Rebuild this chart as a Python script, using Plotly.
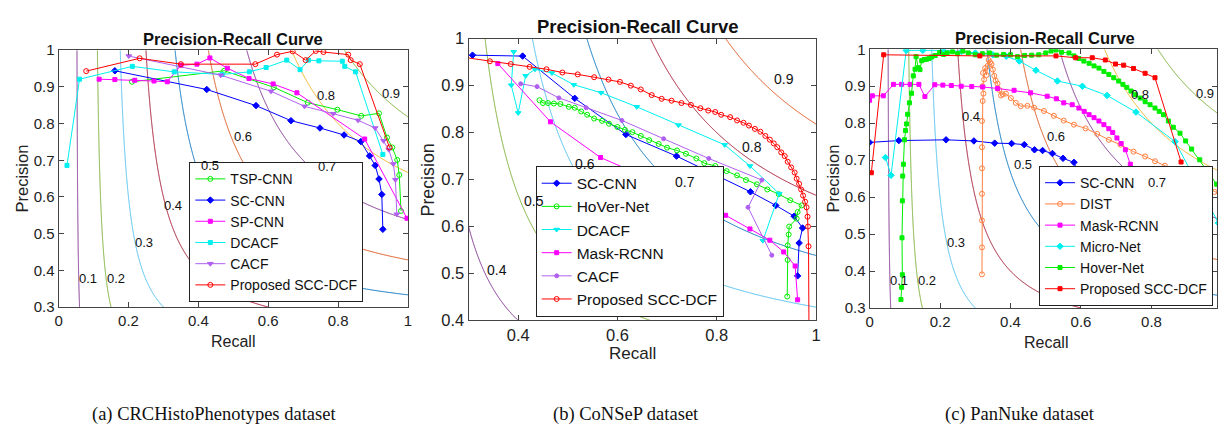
import numpy as np
import plotly.graph_objects as go

W, H = 1223, 433

# ---------------- data ----------------
F_LEVELS = [0.1, 0.2, 0.3, 0.4, 0.5, 0.6, 0.7, 0.8, 0.9]

# Panel (a) CRCHistoPhenotypes
A_TSP_R = [0.21, 0.474, 0.616, 0.713, 0.798, 0.866, 0.917, 0.94, 0.955, 0.969, 0.975, 0.98]
A_TSP_P = [0.914, 0.944, 0.899, 0.857, 0.838, 0.821, 0.828, 0.762, 0.735, 0.701, 0.66, 0.562]
A_SC_R = [0.161, 0.424, 0.565, 0.665, 0.748, 0.817, 0.865, 0.89, 0.906, 0.917, 0.925, 0.928]
A_SC_P = [0.944, 0.893, 0.849, 0.808, 0.788, 0.769, 0.751, 0.712, 0.686, 0.649, 0.607, 0.512]
A_SP_R = [0.116, 0.161, 0.218, 0.273, 0.311, 0.35, 0.396, 0.433, 0.483, 0.545, 0.614, 0.682, 0.876, 0.997]
A_SP_P = [0.921, 0.92, 0.918, 0.916, 0.914, 0.959, 0.962, 0.979, 0.951, 0.923, 0.908, 0.884, 0.758, 0.542]
A_DC_R = [0.024, 0.06, 0.211, 0.331, 0.468, 0.546, 0.594, 0.653, 0.691, 0.715, 0.745, 0.812, 0.819, 0.85, 0.928]
A_DC_P = [0.686, 0.921, 0.956, 0.941, 0.934, 0.941, 0.953, 0.973, 0.947, 0.973, 0.971, 0.97, 0.956, 0.941, 0.716]
A_CA_R = [0.201, 0.464, 0.608, 0.704, 0.786, 0.857, 0.906, 0.93, 0.945, 0.958, 0.964, 0.968]
A_CA_P = [0.984, 0.932, 0.888, 0.847, 0.827, 0.809, 0.788, 0.753, 0.729, 0.69, 0.647, 0.553]
A_PR_R = [0.079, 0.232, 0.35, 0.563, 0.625, 0.67, 0.707, 0.736, 0.758, 0.829, 0.836, 0.862, 0.947]
A_PR_P = [0.943, 0.978, 0.962, 0.962, 0.988, 0.997, 0.973, 0.998, 0.995, 0.988, 0.973, 0.962, 0.735]

# Panel (b) CoNSeP
B_SC_R = [0.308, 0.409, 0.514, 0.617, 0.719, 0.8, 0.868, 0.919, 0.956, 0.973, 0.966, 0.963]
B_SC_P = [0.965, 0.963, 0.873, 0.796, 0.75, 0.708, 0.674, 0.645, 0.622, 0.597, 0.565, 0.495]
B_HV_R = [0.443, 0.45, 0.46, 0.472, 0.485, 0.502, 0.514, 0.527, 0.539, 0.553, 0.569, 0.583, 0.6,
          0.615, 0.63, 0.647, 0.664, 0.683, 0.7, 0.72, 0.738, 0.759, 0.775, 0.797, 0.82, 0.841,
          0.859, 0.881, 0.902, 0.925, 0.948, 0.971, 0.963, 0.961, 0.946, 0.945, 0.943, 0.943, 0.942]
B_HV_P = [0.869, 0.863, 0.863, 0.862, 0.861, 0.855, 0.853, 0.845, 0.838, 0.83, 0.825, 0.819, 0.812,
          0.806, 0.801, 0.793, 0.784, 0.776, 0.768, 0.762, 0.755, 0.745, 0.735, 0.729, 0.718, 0.709,
          0.699, 0.69, 0.679, 0.669, 0.656, 0.645, 0.631, 0.617, 0.6, 0.583, 0.56, 0.529, 0.451]
B_DC_R = [0.391, 0.386, 0.4, 0.415, 0.434, 0.468, 0.512, 0.567, 0.639, 0.723, 0.816, 0.867, 0.926, 0.893]
B_DC_P = [0.972, 0.901, 0.842, 0.921, 0.935, 0.927, 0.902, 0.885, 0.855, 0.816, 0.774, 0.729, 0.67, 0.57]
B_MR_R = [0.359, 0.465, 0.566, 0.669, 0.751, 0.818, 0.867, 0.907, 0.935, 0.958, 0.963]
B_MR_P = [0.947, 0.823, 0.747, 0.699, 0.662, 0.624, 0.595, 0.571, 0.546, 0.516, 0.444]
B_CA_R = [0.405, 0.438, 0.482, 0.537, 0.609, 0.693, 0.784, 0.891, 0.863, 0.911]
B_CA_P = [0.904, 0.898, 0.874, 0.853, 0.826, 0.787, 0.745, 0.699, 0.641, 0.539]
B_PR_R = [0.28, 0.343, 0.385, 0.423, 0.457, 0.489, 0.52, 0.553, 0.582, 0.605, 0.627, 0.647, 0.669,
          0.689, 0.709, 0.729, 0.748, 0.767, 0.783, 0.797, 0.809, 0.827, 0.841, 0.854, 0.865, 0.877,
          0.888, 0.898, 0.907, 0.915, 0.922, 0.93, 0.937, 0.943, 0.95, 0.957, 0.961, 0.966, 0.97,
          0.974, 0.978, 0.981, 0.983, 0.984, 0.985, 0.986]
B_PR_P = [0.962, 0.952, 0.946, 0.94, 0.935, 0.928, 0.924, 0.918, 0.913, 0.908, 0.9, 0.892, 0.88,
          0.872, 0.868, 0.863, 0.859, 0.852, 0.847, 0.844, 0.838, 0.833, 0.826, 0.821, 0.815, 0.808,
          0.802, 0.793, 0.785, 0.777, 0.769, 0.758, 0.75, 0.738, 0.726, 0.715, 0.702, 0.691, 0.679,
          0.666, 0.653, 0.641, 0.621, 0.6, 0.558, 0.35]

# Panel (c) PanNuke
C_SC_R = [0.0, 0.083, 0.217, 0.296, 0.355, 0.403, 0.439, 0.468, 0.491, 0.519, 0.549, 0.58, 0.64]
C_SC_P = [0.748, 0.753, 0.755, 0.752, 0.746, 0.745, 0.742, 0.728, 0.726, 0.718, 0.705, 0.694, 0.55]
C_DI_R = [0.319, 0.319, 0.319, 0.319, 0.319, 0.319, 0.319, 0.321, 0.323, 0.32, 0.325, 0.322, 0.328,
          0.332, 0.335, 0.338, 0.342, 0.346, 0.35, 0.354, 0.358, 0.363, 0.368, 0.373, 0.378, 0.387,
          0.401, 0.415, 0.429, 0.448, 0.467, 0.495, 0.523, 0.551, 0.58, 0.613, 0.646, 0.679, 0.712,
          0.749, 0.782, 0.81, 0.838, 0.867, 0.895, 0.923, 0.951, 0.979, 1.0]
C_DI_P = [0.391, 0.464, 0.537, 0.609, 0.678, 0.735, 0.806, 0.86, 0.88, 0.9, 0.918, 0.936, 0.949,
          0.93, 0.955, 0.971, 0.965, 0.96, 0.945, 0.928, 0.915, 0.907, 0.89, 0.875, 0.878, 0.88,
          0.868, 0.855, 0.846, 0.847, 0.842, 0.833, 0.82, 0.807, 0.796, 0.786, 0.771, 0.755, 0.742,
          0.723, 0.71, 0.697, 0.685, 0.674, 0.661, 0.646, 0.629, 0.614, 0.605]
C_MR_R = [0.0, 0.008, 0.039, 0.068, 0.091, 0.115, 0.14, 0.157, 0.185, 0.208, 0.232, 0.26, 0.29,
          0.321, 0.363, 0.41, 0.457, 0.504, 0.53, 0.551, 0.575, 0.594, 0.609, 0.623, 0.637, 0.651,
          0.665, 0.679, 0.69, 0.702, 0.714, 0.726, 0.74, 0.759, 0.777, 0.8]
C_MR_P = [0.862, 0.874, 0.874, 0.905, 0.905, 0.905, 0.905, 0.872, 0.904, 0.903, 0.902, 0.9, 0.899,
          0.898, 0.894, 0.889, 0.882, 0.873, 0.866, 0.855, 0.85, 0.841, 0.832, 0.823, 0.815, 0.806,
          0.796, 0.785, 0.775, 0.76, 0.745, 0.728, 0.689, 0.65, 0.611, 0.5]
C_MN_R = [0.045, 0.061, 0.104, 0.151, 0.208, 0.261, 0.3, 0.35, 0.388, 0.425, 0.472, 0.533, 0.604,
          0.674, 0.756, 0.867, 0.942, 0.99]
C_MN_P = [0.707, 0.659, 0.997, 0.997, 0.997, 0.994, 0.99, 0.985, 0.981, 0.968, 0.943, 0.914, 0.9,
          0.875, 0.83, 0.75, 0.616, 0.53]
C_HV_R = [0.089, 0.091, 0.093, 0.092, 0.093, 0.094, 0.096, 0.099, 0.102, 0.105, 0.108, 0.113, 0.119,
          0.124, 0.129, 0.132, 0.138, 0.143, 0.148, 0.155, 0.162, 0.169, 0.176, 0.186, 0.199, 0.21,
          0.22, 0.235, 0.25, 0.265, 0.28, 0.3, 0.32, 0.34, 0.36, 0.38, 0.4, 0.42, 0.44, 0.46, 0.48,
          0.5, 0.515, 0.529, 0.545, 0.566, 0.58, 0.594, 0.608, 0.623, 0.637, 0.651, 0.665, 0.679,
          0.693, 0.707, 0.719, 0.73, 0.742, 0.754, 0.768, 0.782, 0.796, 0.81, 0.822, 0.834, 0.848,
          0.862, 0.881, 0.897, 0.914, 0.937, 0.961, 0.985]
C_HV_P = [0.323, 0.356, 0.39, 0.49, 0.59, 0.657, 0.689, 0.755, 0.78, 0.798, 0.824, 0.855, 0.881,
          0.928, 0.946, 0.98, 0.95, 0.945, 0.969, 0.972, 0.973, 0.975, 0.979, 0.983, 0.991, 0.986,
          0.99, 0.993, 0.988, 0.995, 0.99, 0.985, 0.988, 0.99, 0.984, 0.986, 0.985, 0.98, 0.983,
          0.984, 0.985, 0.99, 0.995, 0.998, 0.992, 0.99, 0.982, 0.975, 0.968, 0.962, 0.955, 0.949,
          0.94, 0.932, 0.923, 0.914, 0.905, 0.897, 0.887, 0.877, 0.868, 0.858, 0.85, 0.841, 0.832,
          0.823, 0.806, 0.789, 0.773, 0.752, 0.73, 0.701, 0.669, 0.635]
C_PR_R = [0.005, 0.04, 0.313, 0.529, 0.585, 0.632, 0.669, 0.698, 0.721, 0.749, 0.782, 0.81, 0.884]
C_PR_P = [0.666, 0.985, 0.982, 0.982, 0.977, 0.977, 0.971, 0.96, 0.957, 0.948, 0.935, 0.923, 0.695]

A_XTICKS = [0, 0.2, 0.4, 0.6, 0.8, 1]
A_XTEXT = ["0", "0.2", "0.4", "0.6", "0.8", "1"]
B_XTICKS = [0.4, 0.6, 0.8, 1]
B_XTEXT = ["0.4", "0.6", "0.8", "1"]
C_XTICKS = [0, 0.2, 0.4, 0.6, 0.8]
C_XTEXT = ["0", "0.2", "0.4", "0.6", "0.8"]
AC_YTICKS = [0.3, 0.4, 0.5, 0.6, 0.7, 0.8, 0.9, 1]
AC_YTEXT = ["0.3", "0.4", "0.5", "0.6", "0.7", "0.8", "0.9", "1"]
B_YTICKS = [0.4, 0.5, 0.6, 0.7, 0.8, 0.9, 1]
B_YTEXT = ["0.4", "0.5", "0.6", "0.7", "0.8", "0.9", "1"]

TITLE = "Precision-Recall Curve"
CAPTIONS = ["(a) CRCHistoPhenotypes dataset", "(b) CoNSeP dataset", "(c) PanNuke dataset"]

# ---------------- styles & placement ----------------
M_BLUE, M_ORANGE, M_YELLOW = "#0072BD", "#D95319", "#EDB120"
M_PURPLE, M_GREEN, M_LBLUE, M_DRED = "#7E2F8E", "#77AC30", "#4DBEEE", "#A2142F"
ISO_AC = [M_PURPLE, M_GREEN, M_LBLUE, M_DRED, M_BLUE, M_ORANGE, M_PURPLE, M_YELLOW, M_GREEN]
ISO_B = [M_PURPLE, M_GREEN, M_LBLUE, M_PURPLE, M_GREEN, M_LBLUE, M_BLUE, M_DRED, M_ORANGE]

# where each iso-F label text sits (recall, precision) in each panel
ISO_LABEL_POS = {
    "a": [(0.083, 0.377), (0.164, 0.377), (0.243, 0.477), (0.328, 0.577), (0.434, 0.687),
          (0.527, 0.765), (0.769, 0.683), (0.766, 0.877), (0.951, 0.881)],
    "b": [None, None, None, (0.357, 0.507), (0.431, 0.655), (0.535, 0.733), (0.737, 0.694),
          (0.871, 0.769), (0.936, 0.914)],
    "c": [(0.083, 0.375), (0.164, 0.375), (0.244, 0.476), (0.289, 0.817), (0.436, 0.687),
          (0.529, 0.765), (0.815, 0.639), (0.768, 0.877), (0.953, 0.88)],
}

C_GREEN, C_BLUE, C_MAG, C_CYAN = "#00EE00", "#0000FF", "#FF00FF", "#00F0F0"
C_LPURP, C_RED, C_CORAL = "#B060F0", "#FF0000", "#FF8040"
FONT = "Liberation Sans, Arial, sans-serif"
SERIF = "Liberation Serif, Times New Roman, serif"
AXCOL = "#444444"


def fx(p):
    return p / W


def fy(p):
    return 1 - p / H


PANELS = {
    "a": dict(xd=(55, 407), yd=(43, 311), xr=(0, 1), yr=(0.3, 1), ax="", fs=15, lfs=13),
    "b": dict(xd=(468, 818), yd=(31, 325), xr=(0.3, 1), yr=(0.4, 1), ax="2", fs=16.5, lfs=14),
    "c": dict(xd=(872, 1222), yd=(42, 312), xr=(0, 0.986), yr=(0.3, 1), ax="3", fs=15, lfs=13),
}

fig = go.Figure()


def step_scale(colors):
    n = len(colors) - 1
    sc = []
    for i, c in enumerate(colors):
        lo = max(0.0, (i - 0.5) / n)
        hi = min(1.0, (i + 0.5) / n)
        sc.append([lo, c])
        sc.append([hi, c])
    return sc


def add_iso(panel, colors):
    p = PANELS[panel]
    xs = np.linspace(p["xr"][0] + 1e-4, p["xr"][1], 500)
    ys = np.linspace(p["yr"][0], p["yr"][1], 500)
    X, Y = np.meshgrid(xs, ys)
    Z = 2 * X * Y / (X + Y)
    fig.add_trace(go.Contour(
        x=xs, y=ys, z=Z, zmin=F_LEVELS[0], zmax=F_LEVELS[-1], zauto=False,
        contours=dict(start=F_LEVELS[0], end=F_LEVELS[-1], size=0.1, coloring="lines",
                      showlabels=False),
        colorscale=step_scale(colors), showscale=False, line=dict(width=1),
        hoverinfo="skip", showlegend=False,
        xaxis="x" + p["ax"], yaxis="y" + p["ax"]))


def add_series(panel, name, r, pr, color, symbol, size=5):
    p = PANELS[panel]
    fig.add_trace(go.Scatter(
        x=r, y=pr, name=name, mode="lines+markers",
        line=dict(color=color, width=1),
        marker=dict(color=color, symbol=symbol, size=size, line=dict(color=color, width=1)),
        xaxis="x" + p["ax"], yaxis="y" + p["ax"], legend="legend" + p["ax"]))


add_iso("a", ISO_AC)
add_iso("b", ISO_B)
add_iso("c", ISO_AC)

add_series("a", "TSP-CNN", A_TSP_R, A_TSP_P, C_GREEN, "circle-open")
add_series("a", "SC-CNN", A_SC_R, A_SC_P, C_BLUE, "diamond")
add_series("a", "SP-CNN", A_SP_R, A_SP_P, C_MAG, "square", 4)
add_series("a", "DCACF", A_DC_R, A_DC_P, C_CYAN, "square", 4)
add_series("a", "CACF", A_CA_R, A_CA_P, C_LPURP, "triangle-down")
add_series("a", "Proposed SCC-DCF", A_PR_R, A_PR_P, C_RED, "circle-open")

add_series("b", "SC-CNN", B_SC_R, B_SC_P, C_BLUE, "diamond")
add_series("b", "HoVer-Net", B_HV_R, B_HV_P, C_GREEN, "circle-open")
add_series("b", "DCACF", B_DC_R, B_DC_P, C_CYAN, "triangle-down")
add_series("b", "Mask-RCNN", B_MR_R, B_MR_P, C_MAG, "square", 4)
add_series("b", "CACF", B_CA_R, B_CA_P, C_LPURP, "circle", 4)
add_series("b", "Proposed SCC-DCF", B_PR_R, B_PR_P, C_RED, "circle-open")

add_series("c", "SC-CNN", C_SC_R, C_SC_P, C_BLUE, "diamond")
add_series("c", "DIST", C_DI_R, C_DI_P, C_CORAL, "circle-open")
add_series("c", "Mask-RCNN", C_MR_R, C_MR_P, C_MAG, "square", 4)
add_series("c", "Micro-Net", C_MN_R, C_MN_P, C_CYAN, "diamond")
add_series("c", "Hover-Net", C_HV_R, C_HV_P, C_GREEN, "square", 4)
add_series("c", "Proposed SCC-DCF", C_PR_R, C_PR_P, C_RED, "square", 4)

layout = dict(
    width=W, height=H, autosize=False,
    margin=dict(l=0, r=0, t=0, b=0, pad=0),
    paper_bgcolor="white", plot_bgcolor="white",
    font=dict(family=FONT, color="#222"),
    annotations=[],
)

ticks = {"a": (A_XTICKS, A_XTEXT, AC_YTICKS, AC_YTEXT),
         "b": (B_XTICKS, B_XTEXT, B_YTICKS, B_YTEXT),
         "c": (C_XTICKS, C_XTEXT, AC_YTICKS, AC_YTEXT)}

for key, p in PANELS.items():
    xt, xtt, yt, ytt = ticks[key]
    axbase = dict(showline=True, linecolor=AXCOL, linewidth=1, mirror="ticks", ticks="inside",
                  ticklen=5, tickcolor=AXCOL, showgrid=False, zeroline=False,
                  tickfont=dict(size=p["fs"], family=FONT, color="#222"), fixedrange=True)
    layout["xaxis" + p["ax"]] = dict(axbase, domain=[fx(p["xd"][0]), fx(p["xd"][1])],
                                     range=list(p["xr"]), anchor="y" + p["ax"],
                                     tickvals=xt, ticktext=xtt)
    layout["yaxis" + p["ax"]] = dict(axbase, domain=[fy(p["yd"][1]), fy(p["yd"][0])],
                                     range=list(p["yr"]), anchor="x" + p["ax"],
                                     tickvals=yt, ticktext=ytt)

ann = layout["annotations"]

# iso-F labels
for key, p in PANELS.items():
    for lev, pos in zip(F_LEVELS, ISO_LABEL_POS[key]):
        if pos is None:
            continue
        ann.append(dict(text="%.1f" % lev, x=pos[0], y=pos[1], xref="x" + p["ax"],
                        yref="y" + p["ax"], showarrow=False, xanchor="center",
                        yanchor="middle", font=dict(size=p["lfs"], family=FONT, color="#111")))

# legends (right / bottom edges, font size)
LEG_POS = {"a": (362, 306, 14), "b": (725, 321, 15.5), "c": (1218, 310, 14)}
for key, (rx, by, fsz) in LEG_POS.items():
    layout["legend" + PANELS[key]["ax"]] = dict(
        x=fx(rx), y=fy(by), xanchor="right", yanchor="bottom", xref="paper", yref="paper",
        bgcolor="white", bordercolor="#222", borderwidth=1,
        font=dict(size=fsz, family=FONT, color="#111"), tracegroupgap=0, itemwidth=30)

TITLE_POS = {"a": (231, 31, 16.5), "b": (639, 18, 18.5), "c": (1049, 30, 16.5)}
for key, (cx, cy, fsz) in TITLE_POS.items():
    ann.append(dict(text="<b>%s</b>" % TITLE, x=fx(cx), y=fy(cy), xref="paper", yref="paper",
                    showarrow=False, xanchor="center", yanchor="middle",
                    font=dict(size=fsz, family=FONT, color="#111")))
REC_POS = {"a": (231, 347, 16), "b": (633, 359, 17), "c": (1050, 348, 16)}
for key, (cx, cy, fsz) in REC_POS.items():
    ann.append(dict(text="Recall", x=fx(cx), y=fy(cy), xref="paper", yref="paper",
                    showarrow=False, xanchor="center", yanchor="middle",
                    font=dict(size=fsz, family=FONT, color="#222")))
PREC_POS = {"a": (18, 177, 16.5), "b": (427, 178, 17.8), "c": (835, 177, 16.5)}
for key, (cx, cy, fsz) in PREC_POS.items():
    ann.append(dict(text="Precision", x=fx(cx), y=fy(cy), xref="paper", yref="paper",
                    showarrow=False, xanchor="center", yanchor="middle", textangle=-90,
                    font=dict(size=fsz, family=FONT, color="#222")))
CAP_X = [212, 627, 1024]
for cap, cx in zip(CAPTIONS, CAP_X):
    ann.append(dict(text=cap, x=fx(cx), y=fy(423), xref="paper", yref="paper",
                    showarrow=False, xanchor="center", yanchor="middle",
                    font=dict(size=18.5, family=SERIF, color="#111")))

fig.update_layout(**layout)
fig.write_html("out.html", config={"displayModeBar": False},
               post_script="document.body.style.margin='0px';document.body.style.overflow='hidden';")
